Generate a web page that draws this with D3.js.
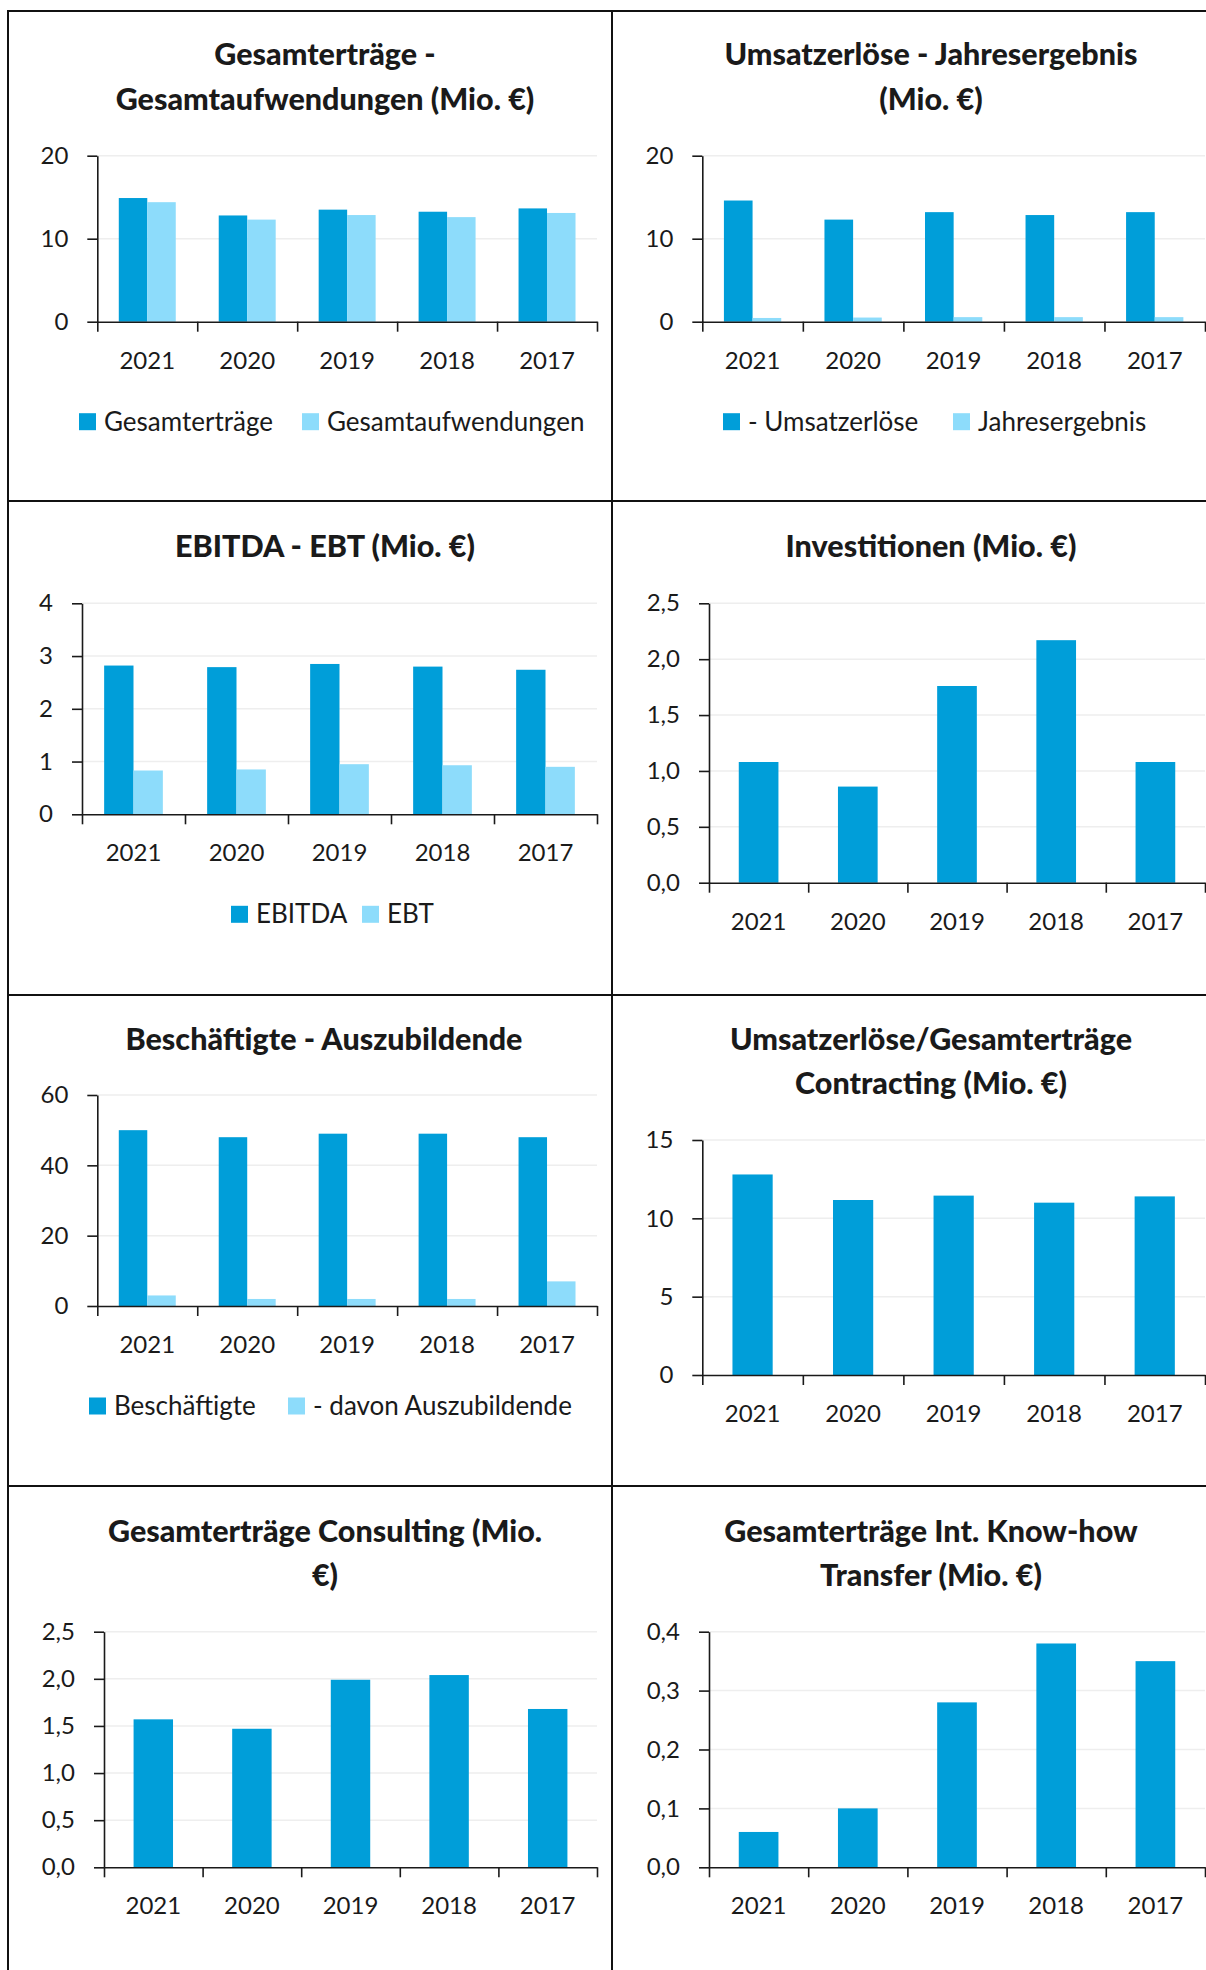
<!DOCTYPE html>
<html><head><meta charset="utf-8">
<script src="https://cdn.jsdelivr.net/npm/d3@7"></script>
<style>
body{margin:0;background:#fff}
svg text{font-family:Lato,"Open Sans",sans-serif;fill:#1a1a1a}
.tick text{font-size:24px}
.title{font-size:30.5px;font-weight:900}
.leg{font-size:26px}
</style>
</head><body><svg id="c" width="1206" height="1970"></svg>
<script>
// ---- data ----
const years = ["2021","2020","2019","2018","2017"];
const gesamtertraege     = [14.9, 12.8, 13.5, 13.25, 13.65];
const gesamtaufwendungen = [14.4, 12.3, 12.85, 12.6, 13.1];
const umsatzerloese      = [14.6, 12.3, 13.2, 12.85, 13.2];
const jahresergebnis     = [0.45, 0.5, 0.55, 0.55, 0.55];
const ebitda             = [2.82, 2.79, 2.85, 2.80, 2.74];
const ebt                = [0.83, 0.85, 0.95, 0.93, 0.90];
const investitionen      = [1.08, 0.86, 1.76, 2.17, 1.08];
const beschaeftigte      = [50, 48, 49, 49, 48];
const auszubildende      = [3, 2, 2, 2, 7];
const contracting        = [12.8, 11.17, 11.45, 11.0, 11.4];
const consulting         = [1.57, 1.47, 1.99, 2.04, 1.68];
const knowhow            = [0.06, 0.10, 0.28, 0.38, 0.35];

const ticks20  = [0, 10, 20];
const ticks4   = [0, 1, 2, 3, 4];
const ticks25  = [0, 0.5, 1.0, 1.5, 2.0, 2.5];
const ticks60  = [0, 20, 40, 60];
const ticks15  = [0, 5, 10, 15];
const ticks04  = [0, 0.1, 0.2, 0.3, 0.4];

// ---- drawing ----
const svg = d3.select("#c");
const DARK = "#009ed9", LIGHT = "#8ddcfb";
const de = d3.formatLocale({decimal: ",", thousands: ".", grouping: [3], currency: ["", " €"]});
const fInt = d3.format("d"), f1 = de.format(".1f");

// panel frame
const frame = svg.append("g").attr("stroke", "#111").attr("stroke-width", 2);
frame.append("line").attr("x1", 8).attr("x2", 1206).attr("y1", 11).attr("y2", 11);
frame.append("line").attr("x1", 8).attr("x2", 8).attr("y1", 10).attr("y2", 1970);
frame.append("line").attr("x1", 612).attr("x2", 612).attr("y1", 10).attr("y2", 1970);
[501, 995, 1486].forEach(yy =>
  frame.append("line").attr("x1", 8).attr("x2", 1206).attr("y1", yy).attr("y2", yy));

function chart(c) {
  const x = d3.scaleBand().domain(years).range([c.x0, c.x1]).padding(0);
  const y = d3.scaleLinear().domain([0, c.ticks[c.ticks.length - 1]]).range([c.y0, c.yTop]);
  const g = svg.append("g");

  g.append("g").selectAll("line").data(c.ticks.filter(t => t > 0)).join("line")
    .attr("x1", c.x0).attr("x2", c.x1).attr("y1", d => y(d)).attr("y2", d => y(d))
    .attr("stroke", "#eeeeee").attr("stroke-width", 1.5);

  const frac = c.series.length > 1 ? 0.57 : 0.40;
  const inner = d3.scaleBand().domain(d3.range(c.series.length)).range([0, x.bandwidth() * frac]);
  c.series.forEach((s, si) => {
    g.append("g").selectAll("rect").data(s).join("rect")
      .attr("x", (d, i) => x(years[i]) + x.bandwidth() * (1 - frac) / 2 + inner(si))
      .attr("width", inner.bandwidth())
      .attr("y", d => y(d)).attr("height", d => c.y0 - y(d))
      .attr("fill", c.colors[si]);
  });

  const ya = g.append("g").attr("transform", `translate(${c.x0},0)`)
    .call(d3.axisLeft(y).tickValues(c.ticks).tickFormat(c.fmt).tickSize(10).tickSizeOuter(0).tickPadding(19));
  const bx = d3.scaleLinear().domain([0, years.length]).range([c.x0, c.x1]);
  const xa = g.append("g").attr("transform", `translate(0,${c.y0})`)
    .call(d3.axisBottom(bx).tickValues(d3.range(years.length + 1)).tickFormat("").tickSize(10).tickSizeOuter(0));
  const xl = g.append("g").attr("transform", `translate(0,${c.y0})`)
    .call(d3.axisBottom(x).tickSize(0).tickPadding(30));
  xl.select(".domain").remove();
  [ya, xa, xl].forEach(a => a.attr("color", "#1a1a1a").attr("font-size", null).attr("font-family", null)
    .selectAll("path,line").attr("stroke-width", 1.6));

  c.title.forEach((t, i) => g.append("text").attr("class", "title")
    .attr("x", c.tx).attr("y", c.ty[i]).attr("text-anchor", "middle").text(t));

  if (c.legend) {
    const ly = c.y0 + 100;
    c.legend.forEach((name, i) => {
      g.append("rect").attr("x", c.lx[i]).attr("y", ly - 8.5).attr("width", 17).attr("height", 17)
        .attr("fill", c.colors[i]);
      g.append("text").attr("class", "leg").attr("x", c.lx[i] + 25).attr("y", ly + 9).text(name);
    });
  }
}

chart({x0: 97.3, x1: 597, y0: 321.7, yTop: 155.7, ticks: ticks20, fmt: fInt,
  series: [gesamtertraege, gesamtaufwendungen], colors: [DARK, LIGHT],
  title: ["Gesamterträge -", "Gesamtaufwendungen (Mio. €)"], tx: 325, ty: [65, 110],
  legend: ["Gesamterträge", "Gesamtaufwendungen"], lx: [79, 302]});

chart({x0: 702.3, x1: 1205, y0: 321.7, yTop: 155.7, ticks: ticks20, fmt: fInt,
  series: [umsatzerloese, jahresergebnis], colors: [DARK, LIGHT],
  title: ["Umsatzerlöse - Jahresergebnis", "(Mio. €)"], tx: 931, ty: [65, 110],
  legend: ["- Umsatzerlöse", "Jahresergebnis"], lx: [723, 953]});

chart({x0: 82, x1: 597, y0: 814.3, yTop: 603.3, ticks: ticks4, fmt: fInt,
  series: [ebitda, ebt], colors: [DARK, LIGHT],
  title: ["EBITDA - EBT (Mio. €)"], tx: 325, ty: [556.7],
  legend: ["EBITDA", "EBT"], lx: [231, 362]});

chart({x0: 709, x1: 1205, y0: 882.7, yTop: 603.3, ticks: ticks25, fmt: f1,
  series: [investitionen], colors: [DARK],
  title: ["Investitionen (Mio. €)"], tx: 931, ty: [556.7]});

chart({x0: 97.3, x1: 597, y0: 1306, yTop: 1095, ticks: ticks60, fmt: fInt,
  series: [beschaeftigte, auszubildende], colors: [DARK, LIGHT],
  title: ["Beschäftigte - Auszubildende"], tx: 324, ty: [1050],
  legend: ["Beschäftigte", "- davon Auszubildende"], lx: [89, 288]});

chart({x0: 702.3, x1: 1205, y0: 1375, yTop: 1140, ticks: ticks15, fmt: fInt,
  series: [contracting], colors: [DARK],
  title: ["Umsatzerlöse/Gesamterträge", "Contracting (Mio. €)"], tx: 931, ty: [1050, 1094]});

chart({x0: 104, x1: 597, y0: 1867.3, yTop: 1631.7, ticks: ticks25, fmt: f1,
  series: [consulting], colors: [DARK],
  title: ["Gesamterträge Consulting (Mio.", "€)"], tx: 325, ty: [1541.7, 1586]});

chart({x0: 709, x1: 1205, y0: 1867.3, yTop: 1631.7, ticks: ticks04, fmt: f1,
  series: [knowhow], colors: [DARK],
  title: ["Gesamterträge Int. Know-how", "Transfer (Mio. €)"], tx: 931, ty: [1541.7, 1586]});
</script>
</body></html>
